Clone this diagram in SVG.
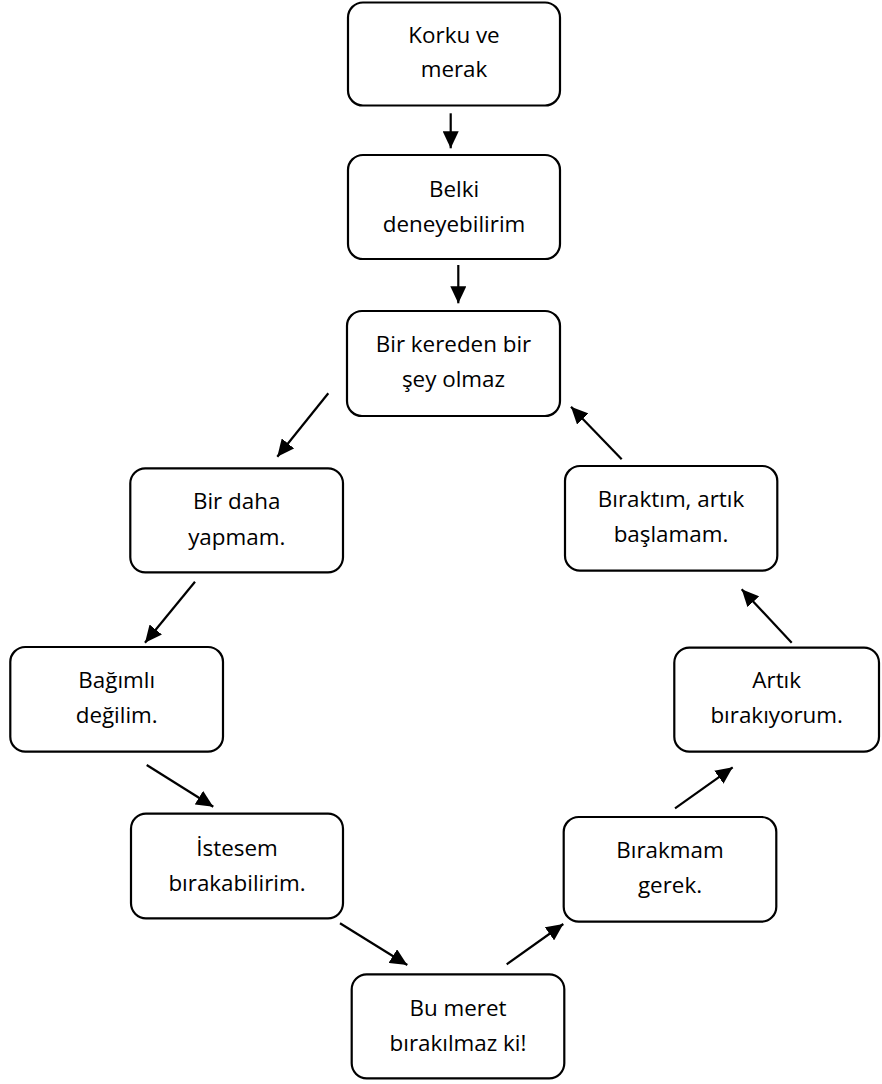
<svg xmlns="http://www.w3.org/2000/svg" width="882" height="1084" viewBox="0 0 882 1084">
<style>
.box{fill:#fff;stroke:#000;stroke-width:2.2}
.t{font-family:"Open Sans","Liberation Sans",sans-serif;font-size:22.4px;fill:#000;text-anchor:middle}
.c{stroke:#000;stroke-width:2.2;fill:none;marker-end:url(#ah)}
</style>
<defs>
<marker id="ah" markerUnits="userSpaceOnUse" markerWidth="17" markerHeight="16" refX="17" refY="8" orient="auto">
<path d="M0,0 L17,8 L0,16 z" fill="#000"/>
</marker>
</defs>
<rect width="882" height="1084" fill="#fff"/>
<g id="n1"><rect class="box" x="348" y="2.5" width="212" height="103" rx="15"/><text class="t" x="454" y="42.7">Korku ve</text><text class="t" x="454" y="77">merak</text></g>
<g id="n2"><rect class="box" x="348" y="155" width="212" height="104" rx="15"/><text class="t" x="454" y="196.7">Belki</text><text class="t" x="454" y="231.7">deneyebilirim</text></g>
<g id="n3"><rect class="box" x="347" y="311" width="213" height="105" rx="15"/><text class="t" x="453.5" y="352.3">Bir kereden bir</text><text class="t" x="453.5" y="386.7">şey olmaz</text></g>
<g id="n4"><rect class="box" x="130.3" y="468.3" width="212.7" height="104" rx="15"/><text class="t" x="236.7" y="508.5">Bir daha</text><text class="t" x="236.7" y="544.5">yapmam.</text></g>
<g id="n5"><rect class="box" x="10.3" y="647" width="212.7" height="104.7" rx="15"/><text class="t" x="116.7" y="687.5">Bağımlı</text><text class="t" x="116.7" y="723">değilim.</text></g>
<g id="n6"><rect class="box" x="131" y="813.7" width="212" height="104.6" rx="15"/><text class="t" x="237" y="856">İstesem</text><text class="t" x="237" y="890.7">bırakabilirim.</text></g>
<g id="n7"><rect class="box" x="351.7" y="974.3" width="212.6" height="104" rx="15"/><text class="t" x="458" y="1015.7">Bu meret</text><text class="t" x="458" y="1050.7">bırakılmaz ki!</text></g>
<g id="n8"><rect class="box" x="563.7" y="817" width="212.6" height="104.7" rx="15"/><text class="t" x="670" y="858.3">Bırakmam</text><text class="t" x="670" y="893.3">gerek.</text></g>
<g id="n9"><rect class="box" x="674.3" y="647.7" width="204.7" height="104" rx="15"/><text class="t" x="776.7" y="688.3">Artık</text><text class="t" x="776.7" y="723.3">bırakıyorum.</text></g>
<g id="n10"><rect class="box" x="565" y="466" width="212.3" height="104.7" rx="15"/><text class="t" x="671" y="506.7">Bıraktım, artık</text><text class="t" x="671" y="541.7">başlamam.</text></g>
<g id="connectors">
<line class="c" x1="450.7" y1="113.3" x2="450.7" y2="148.3"/>
<line class="c" x1="458.3" y1="265" x2="458.3" y2="303.3"/>
<line class="c" x1="328.3" y1="393.3" x2="277.3" y2="456.7"/>
<line class="c" x1="195" y1="581.7" x2="145" y2="642.7"/>
<line class="c" x1="146.7" y1="765" x2="213.3" y2="806.7"/>
<line class="c" x1="340" y1="923.3" x2="407.3" y2="965"/>
<line class="c" x1="506.7" y1="964.3" x2="563.3" y2="924"/>
<line class="c" x1="675" y1="808.3" x2="732.7" y2="767.3"/>
<line class="c" x1="791.7" y1="642.7" x2="741.7" y2="589.3"/>
<line class="c" x1="621.7" y1="459.3" x2="571" y2="406.7"/>
</g>
</svg>
